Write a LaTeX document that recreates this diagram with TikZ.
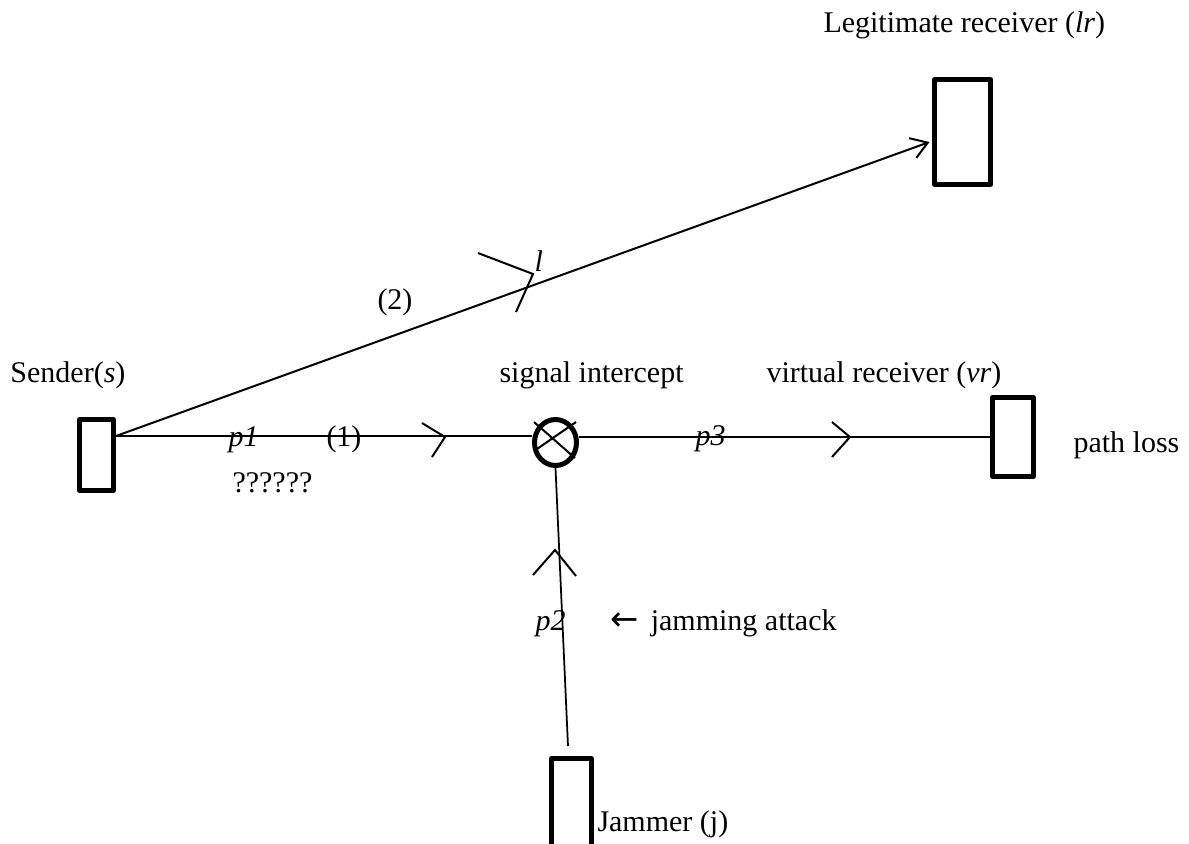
\documentclass[tikz,border=0pt]{standalone}
\usepackage{fontspec}
\setmainfont{Liberation Serif}
\newfontfamily\arrowfont{DejaVu Sans}
\usetikzlibrary{arrows.meta,calc,shapes.geometric}
\begin{document}
\begin{tikzpicture}[x=0.4pt,y=-0.4pt,
  box/.style={draw,line width=2pt,line join=round,rectangle,inner sep=0pt},
  wire/.style={line width=0.8pt},
  chev/.style={line width=0.8pt,line join=miter},
  lbl/.style={font=\fontsize{12}{14}\selectfont,inner sep=0pt,anchor=base west}]
\clip (0,0) rectangle (1189,843);
% devices
\node[box,minimum width=13.6pt,minimum height=28.4pt] (s) at (96.5,455) {};
\node[box,minimum width=22.4pt,minimum height=42pt] (lr) at (962.5,132) {};
\node[box,minimum width=16.4pt,minimum height=31.6pt] (vr) at (1013,437) {};
\node[box,minimum width=16pt,minimum height=48.6pt] (j) at (571.5,819.25) {};
\node[draw,ellipse,line width=2pt,inner sep=0pt,minimum width=16.8pt,minimum height=18.4pt] (c) at (555.5,442.5) {};
\draw[wire] (534,422) -- (575,458);
\draw[wire] (576,422) -- (537,449);
% connectors
\coordinate (sout) at ($(s.east)+(0,-19)$);
\coordinate (lrin) at ($(lr.west)+(-2.5,10)$);
\coordinate (jtop) at ($(j.north)+(-3.5,-10)$);
\draw[wire] (sout) -- (sout -| c.west);
\draw[wire] (c.east |- vr.west) -- (vr.west);
\draw[wire,-{Straight Barb[length=6.4pt,width=8.4pt]}] (sout) -- (lrin);
\draw[wire,line width=0.7pt] (c.south) -- (jtop);
% direction chevrons
\draw[chev] (422,423) -- (445,437) -- (432,457);
\draw[chev] (832,422) -- (850,437) -- (832,457);
\draw[chev] (478,253) -- (533,274) -- (516,312);
\draw[chev] (533,575) -- (555,550) -- (576,576);
% labels
\node[lbl] (tlr) at (823,32) {Legitimate receiver (\textit{lr})};
\node[lbl] (t2) at (377,309) {(2)};
\node[lbl] (tl) at (534,271) {\textit{l}};
\node[lbl] (ts) at (10,382) {Sender(\textit{s})};
\node[lbl] (tsi) at (499,382) {signal intercept};
\node[lbl] (tvr) at (766,382) {virtual receiver (\textit{vr})};
\node[lbl] (tpl) at (1073,452) {path loss};
\node[lbl] (tp1) at (228,446) {\textit{p1}};
\node[lbl] (t1) at (326,446) {(1)};
\node[lbl] (tq) at (232,492) {??????};
\node[lbl] (tp3) at (695,445) {\textit{p3}};
\node[lbl] (tp2) at (535,630) {\textit{p2}};
\node[lbl] (tja) at (610,630) {{\arrowfont\fontsize{13.5}{14}\selectfont ←}\hspace{0.4em}jamming attack};
\node[lbl] (tj) at (597,831) {Jammer (j)};
\end{tikzpicture}
\end{document}
